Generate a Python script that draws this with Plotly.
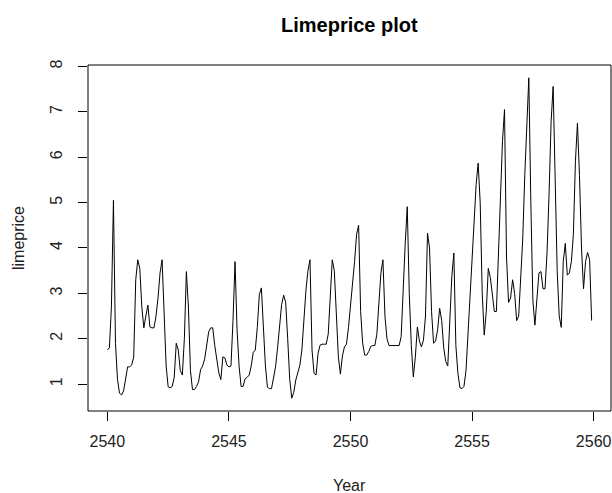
import plotly.graph_objects as go

# Monthly lime price series, 2540-2559 (12 observations per year)
start_year = 2540
months_per_year = 12

limeprice = [
    # 2540
    1.75, 1.80, 2.70, 5.05, 1.90, 1.10, 0.80, 0.76, 0.85, 1.15, 1.38, 1.38,
    # 2541
    1.42, 1.60, 3.30, 3.74, 3.55, 2.70, 2.24, 2.50, 2.74, 2.26, 2.24, 2.24,
    # 2542
    2.50, 2.90, 3.45, 3.74, 2.60, 1.40, 0.94, 0.92, 0.95, 1.15, 1.90, 1.75,
    # 2543
    1.30, 1.20, 2.00, 3.48, 2.70, 1.30, 0.88, 0.88, 0.95, 1.05, 1.32, 1.40,
    # 2544
    1.55, 1.82, 2.15, 2.24, 2.24, 1.85, 1.53, 1.25, 1.10, 1.60, 1.58, 1.42,
    # 2545
    1.38, 1.40, 2.40, 3.70, 2.20, 1.40, 0.95, 0.95, 1.12, 1.15, 1.20, 1.40,
    # 2546
    1.70, 1.75, 2.25, 2.97, 3.12, 2.30, 1.40, 0.93, 0.90, 0.90, 1.12, 1.38,
    # 2547
    1.80, 2.30, 2.75, 2.96, 2.80, 2.00, 1.10, 0.69, 0.82, 1.09, 1.25, 1.42,
    # 2548
    1.75, 2.45, 3.07, 3.50, 3.74, 1.75, 1.24, 1.20, 1.68, 1.86, 1.88, 1.88,
    # 2549
    1.88, 2.10, 2.95, 3.74, 3.50, 2.50, 1.60, 1.22, 1.62, 1.82, 1.88, 2.25,
    # 2550
    2.75, 3.10, 3.70, 4.30, 4.50, 2.60, 1.90, 1.64, 1.64, 1.72, 1.83, 1.85,
    # 2551
    1.85, 2.10, 2.75, 3.45, 3.74, 2.50, 2.00, 1.85, 1.85, 1.85, 1.85, 1.85,
    # 2552
    1.85, 2.05, 3.15, 4.10, 4.91, 3.00, 1.85, 1.16, 1.60, 2.26, 1.95, 1.82,
    # 2553
    1.97, 2.50, 4.33, 4.00, 2.60, 1.90, 1.95, 2.20, 2.67, 2.40, 1.80, 1.50,
    # 2554
    1.40, 2.30, 3.37, 3.89, 1.85, 1.24, 0.92, 0.90, 0.95, 1.30, 2.10, 3.00,
    # 2555
    4.00, 4.80, 5.40, 5.87, 5.00, 3.00, 2.08, 2.60, 3.55, 3.35, 2.89, 2.60,
    # 2556
    2.60, 3.70, 5.10, 6.35, 7.05, 3.80, 2.80, 2.90, 3.30, 3.00, 2.40, 2.50,
    # 2557
    3.45, 4.20, 5.60, 6.80, 7.75, 5.00, 2.85, 2.30, 2.85, 3.45, 3.48, 3.10,
    # 2558
    3.10, 3.90, 5.20, 6.79, 7.56, 5.20, 3.50, 2.50, 2.25, 3.70, 4.10, 3.40,
    # 2559
    3.45, 3.70, 4.30, 5.90, 6.75, 5.60, 4.00, 3.10, 3.70, 3.90, 3.75, 2.40,
]

years = [start_year + i / months_per_year for i in range(len(limeprice))]

x_ticks = [2540, 2545, 2550, 2555, 2560]
y_ticks = [1, 2, 3, 4, 5, 6, 7, 8]

# R-style 4% padding of the data range on each axis
def padded(lo, hi, frac=0.04):
    d = (hi - lo) * frac
    return [lo - d, hi + d]

x_range = padded(min(years), max(years))
y_range = padded(min(limeprice), max(limeprice))

FONT = "Liberation Sans, Arial, sans-serif"

fig = go.Figure(
    go.Scatter(
        x=years,
        y=limeprice,
        mode="lines",
        line=dict(color="black", width=1),
        hoverinfo="skip",
    )
)

fig.update_layout(
    width=612,
    height=493,
    margin=dict(l=88, r=1, t=65, b=82),
    paper_bgcolor="white",
    plot_bgcolor="white",
    showlegend=False,
    font=dict(family=FONT, size=16, color="black"),
)

fig.update_xaxes(
    range=x_range,
    tickvals=x_ticks,
    ticktext=[str(v) for v in x_ticks],
    ticks="outside",
    ticklen=9,
    tickwidth=1,
    tickcolor="black",
    showgrid=False,
    zeroline=False,
    showline=False,
    ticklabelstandoff=7,
    tickfont=dict(family=FONT, size=16, color="#222222"),
)
fig.update_yaxes(
    range=y_range,
    tickvals=y_ticks,
    ticktext=[str(v) for v in y_ticks],
    tickangle=-90,
    ticks="outside",
    ticklen=9,
    tickwidth=1,
    tickcolor="black",
    showgrid=False,
    zeroline=False,
    showline=False,
    ticklabelstandoff=10,
    tickfont=dict(family=FONT, size=16, color="#222222"),
)

# Box around the plotting region
fig.add_shape(
    type="rect", xref="paper", yref="paper", x0=0, y0=0, x1=1, y1=1,
    line=dict(color="black", width=1), fillcolor="rgba(0,0,0,0)", layer="above",
)

# Title and axis titles
fig.add_annotation(
    text="<b>Limeprice plot</b>", xref="paper", yref="paper",
    x=0.5, y=1 + 40 / 346, xanchor="center", yanchor="middle",
    showarrow=False, font=dict(family=FONT, size=20, color="black"),
)
fig.add_annotation(
    text="Year", xref="paper", yref="paper",
    x=0.5, y=-74 / 346, xanchor="center", yanchor="middle",
    showarrow=False, font=dict(family=FONT, size=16, color="#222222"),
)
fig.add_annotation(
    text="limeprice", xref="paper", yref="paper",
    x=-70 / 523, y=0.5, xanchor="center", yanchor="middle", textangle=-90,
    showarrow=False, font=dict(family=FONT, size=16, color="#222222"),
)

fig.write_html("out.html")
